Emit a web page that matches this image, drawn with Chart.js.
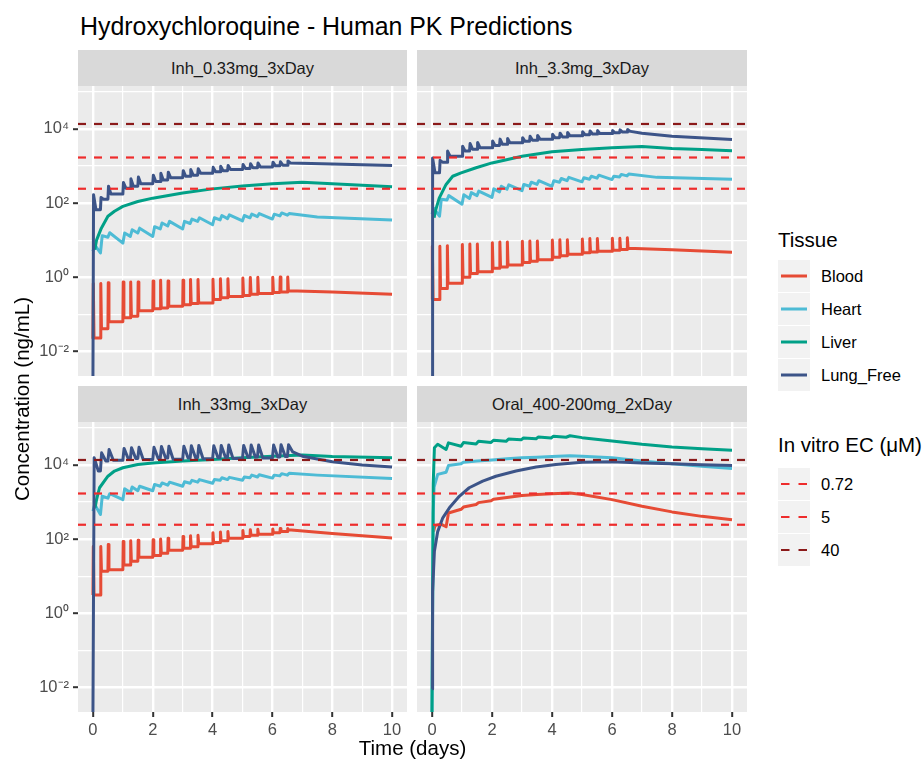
<!DOCTYPE html>
<html>
<head>
<meta charset="utf-8">
<script src="https://cdn.jsdelivr.net/npm/chart.js@4.4.1/dist/chart.umd.min.js"></script>
<style>
  body { margin: 0; background: #fff; font-family: "Liberation Sans", Arial, Helvetica, sans-serif; }
  #page { position: relative; width: 924px; height: 762px; overflow: hidden; }
  .abs { position: absolute; white-space: nowrap; }
  .strip { position: absolute; background: #D9D9D9; color: #1A1A1A; font-size: 16.5px;
           height: 36px; line-height: 36px; text-align: center; }
  canvas { position: absolute; }
  .key { position: absolute; width: 32px; height: 32px; background: #F2F2F2; }
  .keylab { position: absolute; font-size: 16.5px; line-height: 32px; height: 32px; color: #000; }
  .legtitle { position: absolute; font-size: 20.5px; line-height: 20.5px; color: #000; white-space: nowrap; }
</style>
</head>
<body>
<div id="page">
  <div class="abs" style="left:80px; top:14px; font-size:24.9px; line-height:24.9px; color:#000;">Hydroxychloroquine - Human PK Predictions</div>

  <div class="strip" style="left:78px; top:50px; width:329px;" id="strip0"></div>
  <div class="strip" style="left:417px; top:50px; width:330px;" id="strip1"></div>
  <div class="strip" style="left:78px; top:386px; width:329px;" id="strip2"></div>
  <div class="strip" style="left:417px; top:386px; width:330px;" id="strip3"></div>

  <canvas id="p0" width="377" height="290" style="left:30px; top:86px;"></canvas>
  <canvas id="p1" width="330" height="290" style="left:417px; top:86px;"></canvas>
  <canvas id="p2" width="377" height="330" style="left:30px; top:422px;"></canvas>
  <canvas id="p3" width="330" height="330" style="left:417px; top:422px;"></canvas>

  <div class="abs" style="left:-178px; top:387px; width:400px; height:24px; line-height:24px; text-align:center; font-size:20.5px; transform:rotate(-90deg);">Concentration (ng/mL)</div>
  <div class="abs" style="left:78px; top:736px; width:669px; line-height:24px; text-align:center; font-size:20.5px;">Time (days)</div>

  <div id="legend"></div>
</div>

<script>
// ---- data ----
const panelNames = ['Inh_0.33mg_3xDay', 'Inh_3.3mg_3xDay', 'Inh_33mg_3xDay', 'Oral_400-200mg_2xDay'];
const tissues = ['Blood', 'Heart', 'Liver', 'Lung_Free'];
const tissueColors = ['#E64B35', '#4DBBD5', '#00A087', '#3C5488'];
const ecLabels = ['0.72', '5', '40'];
const ecLevels = [242, 1680, 13440];   // ng/mL
const ecColors = ['#EE2C2C', '#EE2C2C', '#8B1A1A'];

const yBreaks = [0.01, 1, 100, 10000];
const yBreakLabels = ['10⁻²', '10⁰', '10²', '10⁴'];
const yMinorBreaks = [0.1, 10, 1000, 100000];
const xBreaks = [0, 2, 4, 6, 8, 10];
const xMinorBreaks = [1, 3, 5, 7, 9];

// inhaled dosing times (days), 3x/day
const days3x = [0, 0.25, 0.5, 1, 1.25, 1.5, 2, 2.25, 2.5, 3, 3.25, 3.5, 4, 4.25, 4.5, 5, 5.25, 5.5, 6, 6.25, 6.5];

// Inh_0.33mg_3xDay
const inh033BloodLow = [0.022, 0.023, 0.041, 0.063, 0.081, 0.089, 0.126, 0.141, 0.148, 0.166, 0.182, 0.195, 0.204, 0.251, 0.282, 0.302, 0.324, 0.347, 0.363, 0.389, 0.398];
const inh033BloodPeak = [0.68, 0.68, 0.71, 0.74, 0.74, 0.74, 0.79, 0.83, 0.79, 0.83, 0.87, 0.87, 0.89, 0.91, 0.91, 0.95, 0.98, 1.0, 1.0, 1.02, 1.02];
const inh033BloodTail = [[6.55, 0.43], [8, 0.40], [10, 0.35]];
const inh033HeartLow = [5.0, 4.5, 12, 8.3, 12.6, 15.5, 12.6, 20, 24, 20, 28, 32, 26, 35, 38, 33, 40, 43, 37, 45, 47];
const inh033HeartPeak = [7.4, 13.2, 15.8, 15.5, 19, 21, 23, 29, 32, 32, 37, 40, 40, 46, 48, 46, 50, 52, 50, 54, 52];
const inh033HeartTail = [[7.5, 42], [10, 35]];
const inh033Liver = [[0.06, 5.5], [0.12, 10], [0.28, 21], [0.5, 44], [0.72, 60], [1, 81], [1.5, 110], [2, 135], [3, 186], [4, 240], [5, 288], [6, 331], [7, 363], [8, 331], [9, 302], [10, 275]];
const inh033LungLow = [0.002, 66, 126, 174, 251, 282, 331, 380, 417, 479, 525, 562, 631, 692, 741, 794, 851, 891, 933, 1000, 1047];
const inh033LungPeak = [166, 141, 282, 355, 447, 501, 562, 631, 676, 741, 794, 832, 912, 977, 1023, 1096, 1148, 1202, 1259, 1288, 1349];
const inh033LungTail = [[6.62, 1202], [8, 1122], [10, 1023]];

// Inh_3.3mg_3xDay
const inh33BloodLow = [0.25, 0.25, 0.5, 0.69, 1.0, 1.26, 1.41, 1.74, 1.9, 2.14, 2.51, 2.69, 2.95, 3.47, 3.8, 4.17, 4.57, 4.79, 5.0, 5.37, 5.62];
const inh33BloodPeak = [6.8, 6.8, 7.1, 7.6, 7.9, 7.9, 8.5, 8.9, 8.9, 9.3, 9.5, 9.5, 10, 10.2, 10.2, 10.7, 11, 11, 11.2, 11.2, 11.5];
const inh33BloodTail = [[6.55, 6.0], [8, 5.5], [10, 4.7]];
const inh33HeartLow = [50, 44, 120, 93, 132, 158, 141, 200, 234, 214, 282, 316, 282, 363, 398, 372, 437, 468, 427, 501, 537];
const inh33HeartPeak = [72, 126, 158, 166, 191, 209, 240, 282, 309, 316, 363, 398, 398, 457, 490, 479, 525, 562, 525, 589, 603];
const inh33HeartTail = [[7.5, 490], [10, 437]];
const inh33Liver = [[0.07, 40], [0.12, 63], [0.24, 135], [0.47, 316], [0.69, 525], [0.97, 646], [1.47, 891], [2, 1200], [3, 1820], [4, 2400], [5, 2750], [6, 3090], [7, 3310], [8, 2950], [9, 2750], [10, 2570]];
const inh33LungLow = [0.002, 650, 1260, 1820, 2510, 2820, 3090, 3550, 3800, 4170, 4570, 4900, 5250, 5750, 6030, 6460, 6920, 7240, 7410, 7760, 8130];
const inh33LungPeak = [1640, 1410, 2510, 3390, 3980, 4270, 4680, 5250, 5500, 5750, 6310, 6610, 7080, 7590, 7940, 8320, 8710, 8910, 8910, 9330, 9550];
const inh33LungTail = [[6.62, 8500], [7, 7600], [8, 6300], [10, 5100]];

// Inh_33mg_3xDay
const inh330BloodLow = [3.1, 3.1, 13.5, 14.8, 20, 25, 32, 36, 41, 50, 56, 62, 74, 81, 89, 105, 117, 126, 135, 148, 158];
const inh330BloodPeak = [63, 63, 71, 85, 89, 93, 95, 100, 105, 117, 123, 126, 148, 155, 158, 170, 178, 182, 186, 191, 191];
const inh330BloodTail = [[6.55, 178], [8, 141], [10, 107]];
const inh330HeartLow = [560, 457, 1259, 1148, 1778, 1995, 1995, 2630, 2818, 2630, 3162, 3388, 3162, 3802, 3981, 3802, 4467, 4677, 4365, 5012, 5248];
const inh330HeartPeak = [851, 1413, 1660, 2239, 2512, 2630, 2951, 3236, 3388, 3467, 3802, 3981, 3981, 4467, 4571, 4677, 5248, 5370, 5248, 5754, 5888];
const inh330HeartTail = [[7.5, 5250], [10, 4270]];
const inh330Liver = [[0.07, 690], [0.12, 1150], [0.22, 2400], [0.5, 4900], [0.72, 6760], [1, 8300], [1.5, 10200], [2, 11200], [3, 12600], [4, 13800], [5, 15500], [6, 17000], [7, 18200], [8, 16600], [10, 15500]];
const inh330LungLow = [0.002, 6800, 12600, 13200, 14500, 14800, 13800, 14800, 15100, 14100, 15100, 15500, 14500, 15500, 15800, 14800, 15800, 16200, 15100, 16200, 16600];
const inh330LungPeak = [15500, 20900, 25700, 27500, 28800, 29500, 29500, 30900, 31600, 31600, 32400, 33100, 32400, 33100, 33900, 33100, 33900, 33900, 33900, 34700, 34700];
const inh330LungTail = [[6.7, 22000], [7, 17000], [8, 12000], [9, 9800], [10, 8700]];

// Oral_400-200mg_2xDay
const oralBlood = [[0.05, 158], [0.1, 229], [0.3, 251], [0.47, 214], [0.55, 501], [0.97, 631], [1.05, 724], [1.47, 851], [1.55, 955], [1.97, 1072], [2.05, 1175], [2.5, 1318], [3, 1479], [3.5, 1585], [4, 1660], [4.6, 1738], [5, 1585], [6, 1148], [7, 759], [8, 537], [9, 407], [10, 331]];
const oralHeart = [[0, 0.002], [0.04, 500], [0.07, 2500], [0.19, 5500], [0.47, 6300], [0.55, 9500], [0.97, 10700], [1.05, 11700], [1.5, 12600], [2, 13500], [2.5, 14500], [3, 15500], [3.5, 16000], [4, 16600], [4.6, 17400], [5, 17000], [6, 15500], [7, 12600], [8, 10700], [9, 9100], [10, 7900]];
const oralLiver = [[0, 0.002], [0.04, 3000], [0.08, 28800], [0.19, 35500], [0.47, 25700], [0.55, 38900], [0.97, 31600], [1.05, 39800], [1.47, 36300], [1.55, 42700], [1.97, 39800], [2.05, 45700], [2.47, 42700], [2.55, 49000], [2.97, 46800], [3.05, 52500], [3.47, 50100], [3.55, 56200], [3.97, 52500], [4.05, 58900], [4.47, 55000], [4.6, 60300], [5, 53700], [6, 43700], [7, 35500], [8, 30200], [9, 26900], [10, 24500]];
const oralLung = [[0, 0.0093], [0.02, 3.8], [0.08, 47], [0.19, 158], [0.36, 372], [0.58, 692], [0.91, 1410], [1.24, 2400], [1.69, 3630], [2.13, 4900], [2.8, 6760], [3.47, 8710], [4.13, 10200], [5, 11700], [6, 12000], [7, 11200], [8, 10700], [9, 10000], [10, 9550]];

// ---- helpers ----
// spike after each dose: trough at dose time, peak a little later, optional settle back
function doseCurve(low, peak, tail, rise, settle) {
  const pts = [];
  days3x.forEach((d, i) => {
    const next = i < days3x.length - 1 ? low[i + 1] : tail[0][1];
    pts.push({ x: d, y: low[i] });
    pts.push({ x: d + rise, y: peak[i] });
    if (settle) pts.push({ x: d + settle, y: next });
  });
  tail.forEach(p => pts.push({ x: p[0], y: p[1] }));
  return pts;
}
const toPts = arr => arr.map(p => ({ x: p[0], y: p[1] }));

const panelSeries = [
  [doseCurve(inh033BloodLow, inh033BloodPeak, inh033BloodTail, 0.012, 0.035),
   doseCurve(inh033HeartLow, inh033HeartPeak, inh033HeartTail, 0.06, null),
   toPts(inh033Liver),
   doseCurve(inh033LungLow, inh033LungPeak, inh033LungTail, 0.02, 0.1)],
  [doseCurve(inh33BloodLow, inh33BloodPeak, inh33BloodTail, 0.012, 0.035),
   doseCurve(inh33HeartLow, inh33HeartPeak, inh33HeartTail, 0.06, null),
   toPts(inh33Liver),
   doseCurve(inh33LungLow, inh33LungPeak, inh33LungTail, 0.02, 0.1)],
  [doseCurve(inh330BloodLow, inh330BloodPeak, inh330BloodTail, 0.012, 0.035),
   doseCurve(inh330HeartLow, inh330HeartPeak, inh330HeartTail, 0.06, null),
   toPts(inh330Liver),
   doseCurve(inh330LungLow, inh330LungPeak, inh330LungTail, 0.04, 0.18)],
  [toPts(oralBlood), toPts(oralHeart), toPts(oralLiver), toPts(oralLung)]
];

const yMin = 0.00219, yMax = 141600;
const xMin = -0.5, xMax = 10.5;

Chart.defaults.font.family = '"Liberation Sans", Arial, Helvetica, sans-serif';

const panelBg = {
  id: 'panelBg',
  beforeDraw(chart) {
    const a = chart.chartArea, ctx = chart.ctx;
    ctx.save();
    ctx.fillStyle = '#EBEBEB';
    ctx.fillRect(a.left, a.top, a.right - a.left, a.bottom - a.top);
    ctx.restore();
  }
};

function noPad(s) { s.paddingTop = 0; s.paddingBottom = 0; s.paddingLeft = 0; s.paddingRight = 0; }

function makePanel(idx, showY, showX) {
  const datasets = [];
  ecLevels.forEach((v, i) => {
    datasets.push({
      label: ecLabels[i], data: [{ x: xMin, y: v }, { x: xMax, y: v }],
      borderColor: ecColors[i], borderWidth: 2.2, borderDash: [8, 8], order: 0
    });
  });
  panelSeries[idx].forEach((pts, i) => {
    datasets.push({
      label: tissues[i], data: pts, borderColor: tissueColors[i],
      borderWidth: 3, order: 4 - i
    });
  });
  const isMajX = v => xBreaks.includes(v);
  const isMajY = v => yBreaks.includes(v);
  new Chart(document.getElementById('p' + idx), {
    type: 'line',
    data: { datasets },
    options: {
      responsive: false,
      animation: false,
      layout: { padding: 0, autoPadding: false },
      elements: {
        point: { radius: 0 },
        line: { tension: 0, borderJoinStyle: 'round', borderCapStyle: 'butt', fill: false }
      },
      plugins: { legend: { display: false }, tooltip: { enabled: false } },
      scales: {
        x: {
          type: 'linear', min: xMin, max: xMax,
          border: { display: false },
          afterBuildTicks: s => { s.ticks = xBreaks.concat(xMinorBreaks).sort((a, b) => a - b).map(v => ({ value: v })); },
          afterFit: s => { s.height = showX ? 40 : 0; noPad(s); },
          grid: {
            color: '#FFFFFF',
            lineWidth: c => (c.tick && isMajX(c.tick.value)) ? 2.4 : 1.2,
            drawTicks: showX, tickLength: 5, tickWidth: 2,
            tickColor: c => (c.tick && isMajX(c.tick.value)) ? '#333333' : 'rgba(0,0,0,0)'
          },
          ticks: {
            display: showX, autoSkip: false, maxRotation: 0, padding: 4,
            color: '#4D4D4D', font: { size: 16.5 },
            callback: v => isMajX(v) ? String(v) : ''
          }
        },
        y: {
          type: 'logarithmic', min: yMin, max: yMax,
          border: { display: false },
          afterBuildTicks: s => { s.ticks = yBreaks.concat(yMinorBreaks).sort((a, b) => a - b).map(v => ({ value: v })); },
          afterFit: s => { s.width = showY ? 48 : 0; noPad(s); },
          grid: {
            color: '#FFFFFF',
            lineWidth: c => (c.tick && isMajY(c.tick.value)) ? 2.4 : 1.2,
            drawTicks: showY, tickLength: 5, tickWidth: 2,
            tickColor: c => (c.tick && isMajY(c.tick.value)) ? '#333333' : 'rgba(0,0,0,0)'
          },
          ticks: {
            display: showY, autoSkip: false, padding: 4,
            color: '#4D4D4D', font: { size: 16.5 },
            callback: v => { const k = yBreaks.indexOf(v); return k >= 0 ? yBreakLabels[k] : ''; }
          }
        }
      }
    },
    plugins: [panelBg]
  });
}

panelNames.forEach((n, i) => { document.getElementById('strip' + i).textContent = n; });
makePanel(0, true, false);
makePanel(1, false, false);
makePanel(2, true, true);
makePanel(3, false, true);

// ---- legend ----
const leg = document.getElementById('legend');
function addTitle(text, top) {
  const d = document.createElement('div');
  d.className = 'legtitle'; d.style.left = '778px'; d.style.top = top + 'px';
  d.textContent = text; leg.appendChild(d);
}
function addKey(top, color, dashed, text) {
  const k = document.createElement('div');
  k.className = 'key'; k.style.left = '778px'; k.style.top = top + 'px';
  k.innerHTML = '<svg width="32" height="32"><line x1="3" y1="16" x2="29" y2="16" stroke="' + color +
    '" stroke-width="' + (dashed ? 2.2 : 3) + '"' + (dashed ? ' stroke-dasharray="8.5 9"' : '') + '/></svg>';
  leg.appendChild(k);
  const l = document.createElement('div');
  l.className = 'keylab'; l.style.left = '821px'; l.style.top = top + 'px';
  l.textContent = text; leg.appendChild(l);
}
addTitle('Tissue', 230);
tissues.forEach((t, i) => addKey(260 + i * 33, tissueColors[i], false, t));
addTitle('In vitro EC (μM)', 435);
ecLabels.forEach((t, i) => addKey(468 + i * 33, ecColors[i], true, t));
</script>
</body>
</html>
